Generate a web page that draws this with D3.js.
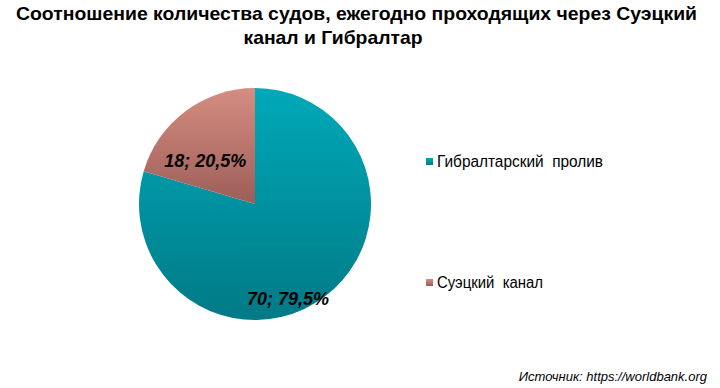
<!DOCTYPE html>
<html>
<head>
<meta charset="utf-8" />
<style>
  html, body { margin: 0; padding: 0; background: #fff; }
  svg { display: block; font-family: "Liberation Sans", Arial, sans-serif; }
  .pre { white-space: pre; }
</style>
</head>
<body>
<svg id="chart"></svg>
<script src="https://d3js.org/d3.v7.min.js"></script>
<script>
  const categories = ["Гибралтарский  пролив", "Суэцкий  канал"];
  const values = [70, 18];
  const percents = ["79,5%", "20,5%"];

  const width = 720;
  const height = 388;
  const cx = 255, cy = 204, radius = 116;

  const svg = d3.select("#chart").attr("width", width).attr("height", height);

  // gradients like the office chart style
  const defs = svg.append("defs");
  const grads = [
    { id: "g0", top: "#00a9b9", bottom: "#007a86" },
    { id: "g1", top: "#d68d82", bottom: "#9c5e58" }
  ];
  grads.forEach((g) => {
    const lg = defs.append("linearGradient")
      .attr("id", g.id)
      .attr("x1", 0).attr("y1", 0).attr("x2", 0).attr("y2", 1);
    lg.append("stop").attr("offset", "0%").attr("stop-color", g.top);
    lg.append("stop").attr("offset", "100%").attr("stop-color", g.bottom);
  });

  // title
  const title = svg.append("g")
    .attr("text-anchor", "middle")
    .attr("font-weight", "bold")
    .attr("font-size", 19)
    .attr("fill", "#000");
  title.append("text").attr("x", 356.5).attr("y", 19.5)
    .attr("textLength", 681).attr("lengthAdjust", "spacingAndGlyphs")
    .text("Соотношение количества судов, ежегодно проходящих через Суэцкий");
  title.append("text").attr("x", 333).attr("y", 43.5)
    .attr("textLength", 179).attr("lengthAdjust", "spacingAndGlyphs")
    .text("канал и Гибралтар");

  const pie = d3.pie().sort(null).value((d) => d);
  const arcs = pie(values);

  const arc = d3.arc().innerRadius(0).outerRadius(radius);

  const g = svg.append("g").attr("transform", `translate(${cx},${cy})`);

  g.selectAll("path")
    .data(arcs)
    .join("path")
    .attr("d", arc)
    .attr("fill", (d, i) => `url(#g${i})`);

  // label placement (radius fraction and angle shift per slice)
  const labelPos = [
    { r: 0.87, shift: 0.31 },
    { r: 0.57, shift: -0.21 }
  ];
  g.selectAll("text.lbl")
    .data(arcs)
    .join("text")
    .attr("class", "lbl")
    .attr("text-anchor", "middle")
    .attr("font-weight", "bold")
    .attr("font-style", "italic")
    .attr("font-size", 18)
    .attr("fill", "#000")
    .attr("x", (d, i) => {
      const a = (d.startAngle + d.endAngle) / 2 + labelPos[i].shift;
      return Math.sin(a) * radius * labelPos[i].r;
    })
    .attr("y", (d, i) => {
      const a = (d.startAngle + d.endAngle) / 2 + labelPos[i].shift;
      return -Math.cos(a) * radius * labelPos[i].r + 6;
    })
    .text((d, i) => `${d.data}; ${percents[i]}`);

  // legend
  const legendWidths = [166, 106];
  const legend = svg.append("g").attr("transform", "translate(426,158)");
  const item = legend.selectAll("g")
    .data(categories)
    .join("g")
    .attr("transform", (d, i) => `translate(0,${i * 121})`);
  item.append("rect")
    .attr("width", 7).attr("height", 7)
    .attr("fill", (d, i) => `url(#g${i})`);
  item.append("text")
    .attr("class", "pre")
    .attr("x", 11).attr("y", 8.5)
    .attr("font-size", 16)
    .attr("textLength", (d, i) => legendWidths[i])
    .attr("lengthAdjust", "spacingAndGlyphs")
    .attr("fill", "#000")
    .text((d) => d);

  // source
  svg.append("text")
    .attr("x", 707).attr("y", 381)
    .attr("text-anchor", "end")
    .attr("font-style", "italic")
    .attr("font-size", 13)
    .attr("fill", "#000")
    .text("Источник: https://worldbank.org");
</script>
</body>
</html>
